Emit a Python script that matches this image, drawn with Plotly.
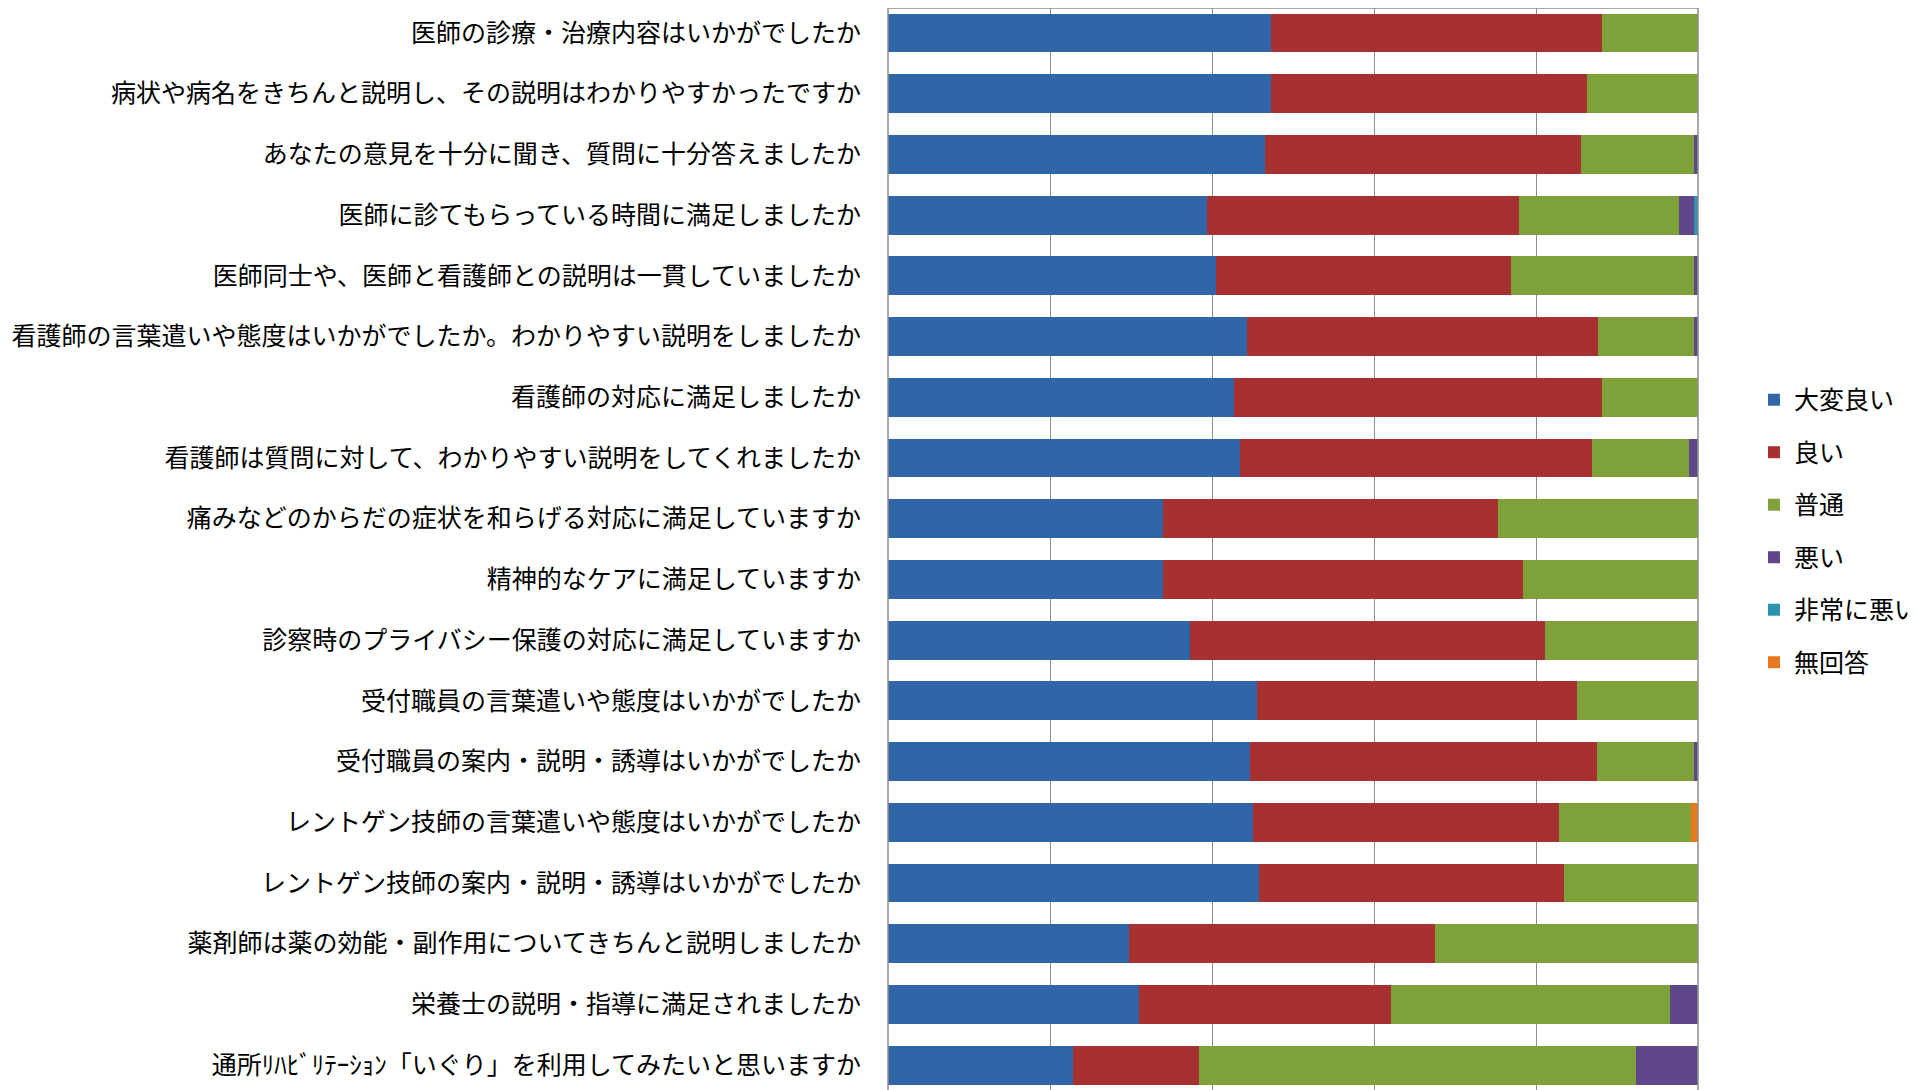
import plotly.graph_objects as go

categories = [
    "医師の診療・治療内容はいかがでしたか",
    "病状や病名をきちんと説明し、その説明はわかりやすかったですか",
    "あなたの意見を十分に聞き、質問に十分答えましたか",
    "医師に診てもらっている時間に満足しましたか",
    "医師同士や、医師と看護師との説明は一貫していましたか",
    "看護師の言葉遣いや態度はいかがでしたか。わかりやすい説明をしましたか",
    "看護師の対応に満足しましたか",
    "看護師は質問に対して、わかりやすい説明をしてくれましたか",
    "痛みなどのからだの症状を和らげる対応に満足していますか",
    "精神的なケアに満足していますか",
    "診察時のプライバシー保護の対応に満足していますか",
    "受付職員の言葉遣いや態度はいかがでしたか",
    "受付職員の案内・説明・誘導はいかがでしたか",
    "レントゲン技師の言葉遣いや態度はいかがでしたか",
    "レントゲン技師の案内・説明・誘導はいかがでしたか",
    "薬剤師は薬の効能・副作用についてきちんと説明しましたか",
    "栄養士の説明・指導に満足されましたか",
    "通所ﾘﾊﾋﾞﾘﾃｰｼｮﾝ「いぐり」を利用してみたいと思いますか",
]

series_names = ["大変良い", "良い", "普通", "悪い", "非常に悪い", "無回答"]

# percentages
very_good = [47.3, 47.3, 46.5, 39.4, 40.5, 44.3, 42.7, 43.5, 33.9, 33.9, 37.3, 45.5, 44.7, 45.1, 45.8, 29.7, 31.0, 22.9]
good      = [40.9, 39.0, 39.1, 38.5, 36.4, 43.3, 45.4, 43.45, 41.4, 44.5, 43.8, 39.6, 42.8, 37.8, 37.7, 37.8, 31.1, 15.5]
normal    = [11.8, 13.7, 13.9, 19.7, 22.6, 11.9, 11.9, 11.95, 24.7, 21.6, 18.9, 14.9, 12.0, 16.2, 16.5, 32.5, 34.5, 53.9]
bad       = [0.0, 0.0, 0.5, 1.9, 0.5, 0.5, 0.0, 1.1, 0.0, 0.0, 0.0, 0.0, 0.5, 0.0, 0.0, 0.0, 3.4, 7.7]
very_bad  = [0.0, 0.0, 0.0, 0.5, 0.0, 0.0, 0.0, 0.0, 0.0, 0.0, 0.0, 0.0, 0.0, 0.0, 0.0, 0.0, 0.0, 0.0]
no_answer = [0.0, 0.0, 0.0, 0.0, 0.0, 0.0, 0.0, 0.0, 0.0, 0.0, 0.0, 0.0, 0.0, 0.9, 0.0, 0.0, 0.0, 0.0]

series_values = [very_good, good, normal, bad, very_bad, no_answer]
colors = ["#3066A8", "#A63130", "#7FA13A", "#60478A", "#2B93AE", "#E8781F"]

fig = go.Figure()
for i, (name, vals, col) in enumerate(zip(series_names, series_values, colors)):
    fig.add_trace(go.Bar(
        y=categories, x=vals, name=name, orientation="h",
        marker=dict(color=col, line=dict(width=0)),
        legendgroup=f"g{i}",
    ))

fig.update_layout(
    width=1909, height=1082,
    barmode="stack", bargap=0.36,
    paper_bgcolor="white", plot_bgcolor="white",
    margin=dict(l=880, r=219, t=0, b=0),
    font=dict(family="Noto Sans CJK JP", size=25, color="#000000"),
    showlegend=True,
    legend=dict(
        xref="container", yref="container",
        x=0.9146, y=0.659, xanchor="left", yanchor="top",
        font=dict(size=25, family="Noto Sans CJK JP", color="#000000"),
        traceorder="grouped", tracegroupgap=17,
        itemwidth=30, bgcolor="rgba(0,0,0,0)",
    ),
    xaxis=dict(
        range=[0, 100], showticklabels=False, ticks="",
        showgrid=True, gridcolor="#8C8C8C", gridwidth=1.2,
        tickvals=[0, 20, 40, 60, 80, 100],
        zeroline=False, showline=False,
    ),
    yaxis=dict(
        categoryorder="array", categoryarray=categories,
        range=[17.41, -0.412], showgrid=False, ticks="",
        ticklabelstandoff=26, showline=False, zeroline=False,
    ),
)

# plot-area border (left, right, top)
border = dict(color="#8C8C8C", width=1.5)
fig.add_shape(type="line", xref="paper", yref="paper", x0=0, x1=0, y0=0, y1=1, line=border)
fig.add_shape(type="line", xref="paper", yref="paper", x0=1, x1=1, y0=0, y1=1, line=border)
fig.add_shape(type="line", xref="paper", yref="paper", x0=0, x1=1, y0=1, y1=1, line=border)

fig.write_html("out.html")
